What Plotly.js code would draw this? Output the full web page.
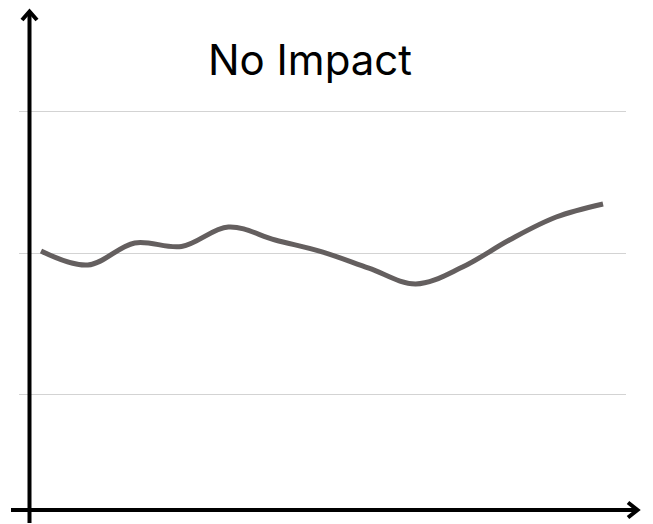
<!DOCTYPE html>
<html>
<head>
<meta charset="utf-8">
<script src="https://cdn.plot.ly/plotly-3.0.1.min.js"></script>
<style>
html,body{margin:0;padding:0;background:#fff;}
#chart{width:653px;height:524px;}
</style>
</head>
<body>
<div id="chart"></div>
<script>
var titleText = "No Impact";
var xIndex = [0,1,2,3,4,5,6,7,8,9,10,11,12];
var values = [2.016,1.917,2.073,2.048,2.186,2.094,2.01,1.895,1.783,1.903,2.094,2.256,2.348];
var gridValues = [1,2,3];

var trace = {
  x: xIndex,
  y: values,
  type: 'scatter',
  mode: 'lines',
  line: {color: '#645f5f', width: 5, shape: 'spline', smoothing: 1},
  hoverinfo: 'skip'
};

function px(x){ return (x-19)/607; }
function py(y){ return (510-y)/498; }

var axisStyle = {color:'#000', width:4};
var shapes = [
  {type:'line', xref:'paper', yref:'paper', x0:px(29.5), x1:px(29.5), y0:py(523), y1:py(12), line:axisStyle},
  {type:'path', xref:'paper', yref:'paper',
   path:'M '+px(22)+','+py(20)+' L '+px(29.5)+','+py(11.5)+' L '+px(37)+','+py(20), line:axisStyle},
  {type:'line', xref:'paper', yref:'paper', x0:px(11), x1:px(637), y0:py(510), y1:py(510), line:axisStyle},
  {type:'path', xref:'paper', yref:'paper',
   path:'M '+px(628)+','+py(502.5)+' L '+px(637.5)+','+py(510)+' L '+px(628)+','+py(517.5), line:axisStyle}
];

var layout = {
  width: 653, height: 524,
  margin: {l:19, r:27, t:12, b:14, pad:0},
  paper_bgcolor: '#fff', plot_bgcolor: '#fff',
  showlegend: false,
  title: {
    text: titleText,
    font: {family: 'Inter, Lato, sans-serif', size: 42, color: '#000'},
    xref: 'paper', x: px(310), xanchor: 'center',
    yref: 'container', y: 1-60/524, yanchor: 'middle'
  },
  xaxis: {range: [-0.47, 12.49], showgrid: false, zeroline: false, showticklabels: false, ticks: '', showline: false, fixedrange: true},
  yaxis: {range: [0.187, 3.704], tickvals: gridValues, showgrid: true, gridcolor: '#d3d3d3', gridwidth: 1,
          zeroline: false, showticklabels: false, ticks: '', showline: false, fixedrange: true},
  shapes: shapes
};

Plotly.newPlot('chart', [trace], layout, {displayModeBar: false, staticPlot: true});
</script>
</body>
</html>
